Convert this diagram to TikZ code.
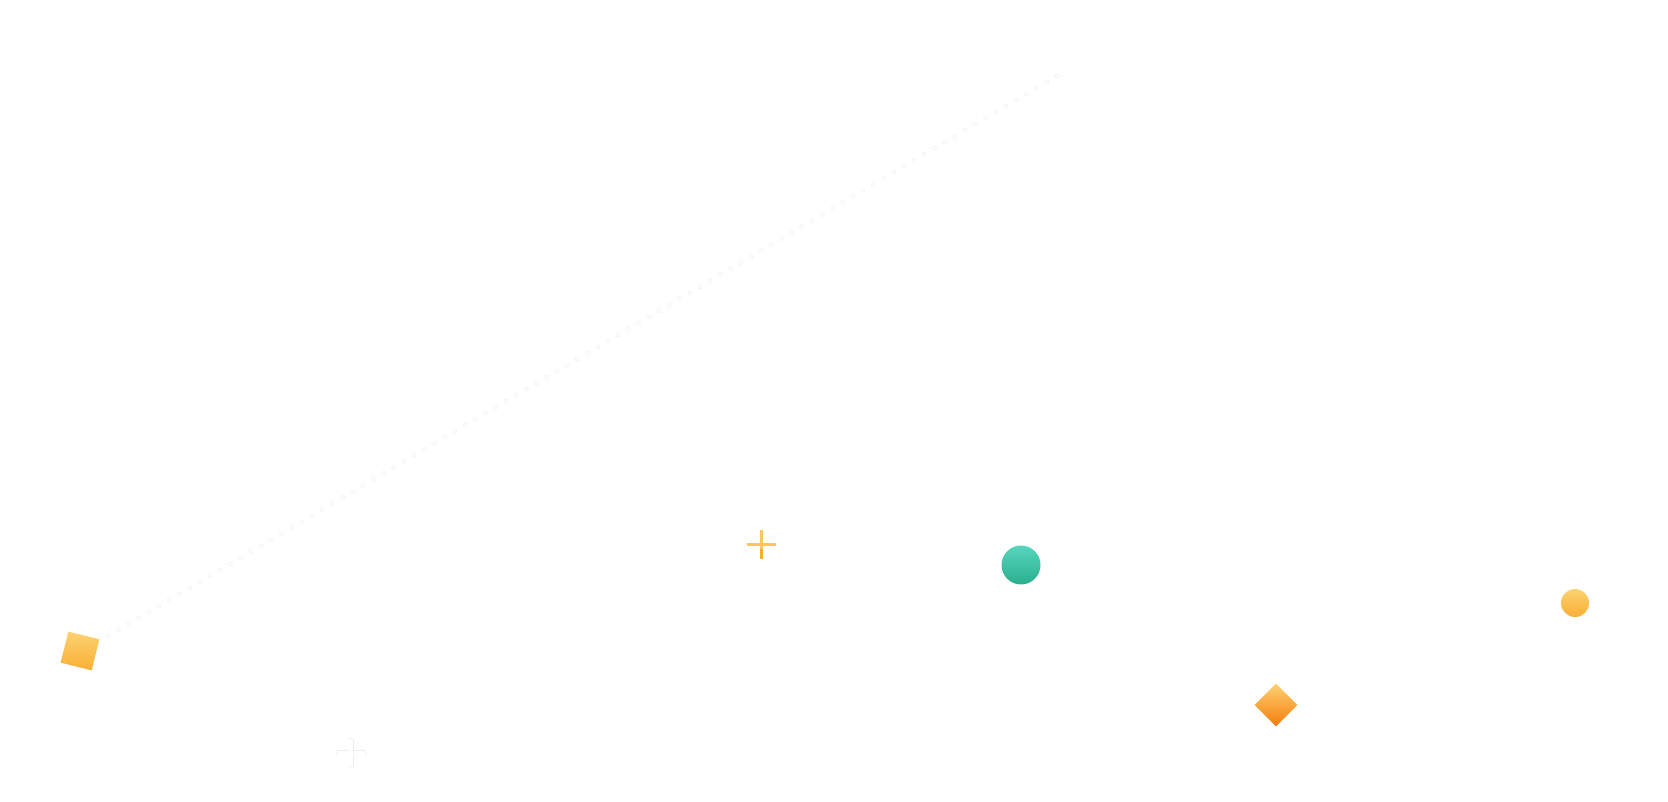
\documentclass[tikz,border=0pt]{standalone}
\usepackage{tikz}
\usetikzlibrary{shapes.geometric}
\usetikzlibrary{calc}
\usepackage{xcolor}
\definecolor{sunlight}{HTML}{FDD272}
\definecolor{sunorange}{HTML}{F9AE33}
\definecolor{deeporange}{HTML}{F57C0A}
\definecolor{mintlight}{HTML}{56D6BE}
\definecolor{mintdark}{HTML}{2BAE8E}
\definecolor{plusyellow}{HTML}{FFC65A}
\definecolor{ghost}{HTML}{EDEDED}
\definecolor{trail}{HTML}{F3F3F3}

\begin{document}
\begin{tikzpicture}[x=1pt,y=1pt]
\useasboundingbox (0,0) rectangle (1668,802);
\fill [white] (0,0) rectangle (1668,802);

% faint dotted trail
\coordinate (trailstart) at (108,166);
\coordinate (trailend) at (1057,726);
\foreach \i in {0,...,93}
  \draw [trail, line width=0.7] ($(trailstart)!\i/93!(trailend)$) circle (2);

% shapes
\node [rectangle, minimum size=32, inner sep=0, rotate=-14, shading angle=14,
  top color=sunlight, bottom color=sunorange] (square) at (80,151) {};
\node [circle, minimum size=39, inner sep=0,
  top color=mintlight, bottom color=mintdark] (tealball) at (1021,237) {};
\node [circle, minimum size=28, inner sep=0,
  top color=sunlight, bottom color=sunorange] (orangeball) at (1575,199) {};
\node [diamond, minimum size=43, inner sep=0,
  top color=sunlight, bottom color=deeporange] (gem) at (1276,97) {};

% yellow cross
\coordinate (cross) at (761,257);
\draw [plusyellow, line width=3] ($(cross)+(-14.5,0)$) -- ($(cross)+(14.5,0)$);
\draw [plusyellow, line width=3] ($(cross)+(0,14.5)$) -- ($(cross)+(0,-14.5)$);
\draw [sunorange, line width=3] ($(cross)+(0,-4)$) -- ($(cross)+(0,-14.5)$);

% faint outlined cross
\coordinate (ghostcross) at (351,49);
\draw [ghost, line width=5, line cap=round] ($(ghostcross)+(-13,0)$) -- ($(ghostcross)+(13,0)$);
\draw [ghost, line width=5, line cap=round] ($(ghostcross)+(0,13)$) -- ($(ghostcross)+(0,-13)$);
\draw [white, line width=3.4, line cap=round] ($(ghostcross)+(-13,0)$) -- ($(ghostcross)+(13,0)$);
\draw [white, line width=3.4, line cap=round] ($(ghostcross)+(0,13)$) -- ($(ghostcross)+(0,-13)$);
\end{tikzpicture}
\end{document}
